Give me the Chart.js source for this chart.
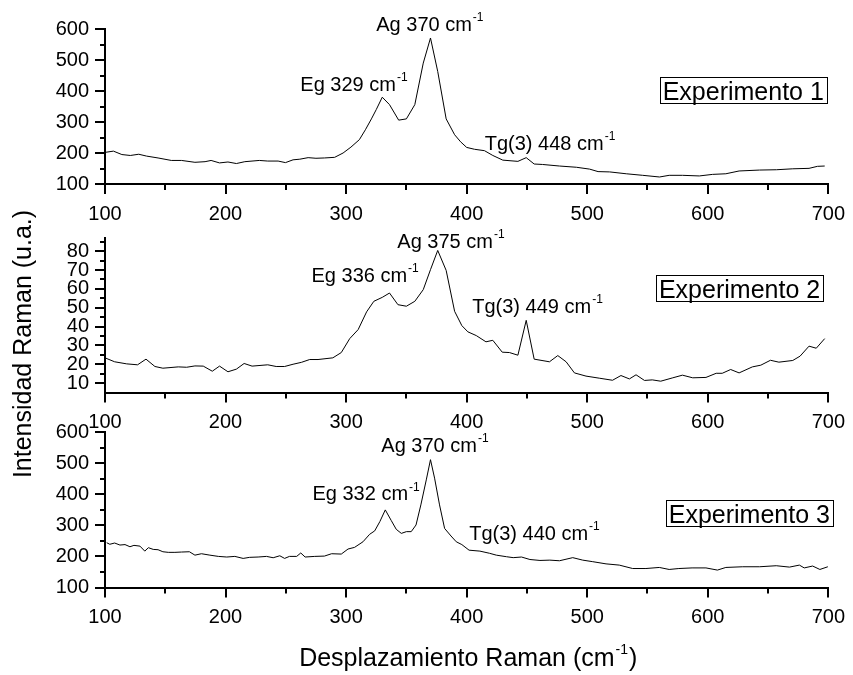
<!DOCTYPE html>
<html><head><meta charset="utf-8">
<script src="https://cdn.jsdelivr.net/npm/chart.js@4"></script>
<style>
html,body{margin:0;padding:0;background:#fff;width:853px;height:675px;overflow:hidden}
canvas{position:absolute;left:0;top:0}
</style></head>
<body>
<canvas id="c1" width="853" height="675"></canvas>
<canvas id="c2" width="853" height="675"></canvas>
<canvas id="c3" width="853" height="675"></canvas>
<script>
// ---- data ----
const ramanShift1 = [100,107,114,121,128,134.5,144,155,163.5,174.6,183,188,195,202,209,216,228,235,243.6,249.7,256,261.6,268.5,275,282,290.5,297.5,304,311,316,321,325,330,336,343.6,350,357,364,370,376,383,390,395,400,406.5,414.8,421.7,430,442.5,449.4,456,463,477,491,502,509,518.6,532.4,546,560,568,579,593,604,615,626,643,657,670.5,684,691,697];
const intensity1 = [202,206,195,192,196,190,184,176,176,170,172,176,168,171,166,172,176,174,174,169,178,180,185,183,184,186,200,219,243,275,310,340,380,356,306,310,356,490,571,463,310,259,236,218,212,207.5,192,177,173,185,164.5,163,158,154,148,140,139,133,128,122.6,128,128,126,131,133,142,145,146,149,150.5,157,158];

const ramanShift2 = [100,108,118,127,134,141.4,148,160.8,167.7,174.6,181.5,189,195,202,209,215.4,222,235,242,249,256,262.9,269.8,276.7,289,296,303,310,317,323,330,336,343,350,357,364,370,376,383,390,396,401,408,416,421.7,429.5,435.5,442.5,449.4,456,468.7,475.6,482.5,489.4,499,510,521,528,535,540.5,547.5,554,561,571,579,587.5,598.5,607,612,619,626,637,644,652,659,670.5,676.6,684,690,697];
const intensity2 = [23.4,21.3,20.2,19.7,22.7,18.8,17.9,18.6,18.4,19.1,19,16.3,19,16,17.4,20.4,19,19.7,18.8,18.8,20,21,22.5,22.5,23.4,26.2,33.6,38.4,47.8,53.4,55.5,57.8,51.6,50.8,53.4,59.6,70.2,80.4,69.8,48.1,40.5,37.2,35.2,31.9,32.7,26.4,26.2,24.8,43.3,22.7,21.3,24.6,21.3,15.4,13.7,12.6,11.5,14,12.2,14.4,11.4,11.7,11,12.8,14.2,12.8,13,15.2,15.2,17.2,15.4,18.6,19.5,22.1,21.1,22,24.3,29.6,28.5,33.6];

const ramanShift3 = [101.4,104,108,112.4,116.6,120.7,124,129,133,136,140,144,148,152.5,158,163.5,170,174.6,180,187,194,201,207.7,214.6,220,227,234,239.5,245,249,253,259,262.4,266,274,282,288,296,301.6,307,314,319.5,323.7,328,332.5,337.5,341.6,345.8,350,354,358,362,366.5,370,373.4,377.5,381.7,387,391.4,396,402,411,419,424.6,433,438.6,445.5,452.5,460.8,469,477,488,496.3,504.6,515.6,526.6,537.7,548.7,559.8,568,576,587,598.5,608,615,629,643,656.8,667.8,676,680,687,693,699.6];
const intensity3 = [244,239,243,236.5,238,231,235.5,233,217,228,222.5,221.5,215,213,213,214,215,204,208.6,204,200,198,200,193.5,197,198,200,195.7,202,193.5,200,200,211,198,200,201,208.6,207.5,223.7,229,247,271,282,312,349.5,315,287,274,279.6,279.6,301,365.6,446,511,451.6,365.6,290,265.6,247,238,220,217,210,204,199,196,198,190,187,188,186,196,188,183,176,172,161,161,164.5,158,161,163,163,156,164.5,166.7,166.7,170,165.6,172,163,169,158,166.7];

// ---- tick labels ----
const xTicks = [100,200,300,400,500,600,700];
const xMinorTicks = [150,250,350,450,550,650];
const yTicks1 = [100,200,300,400,500,600];
const yMinorTicks1 = [150,250,350,450,550];
const yTicks2 = [10,20,30,40,50,60,70,80];
const yMinorTicks2 = [15,25,35,45,55,65,75,85];
const yTicks3 = [100,200,300,400,500,600];
const yMinorTicks3 = [150,250,350,450,550];

// ---- texts ----
const peakLabels1 = ['Ag 370 cm', 'Eg 329 cm', 'Tg(3) 448 cm'];
const peakLabels2 = ['Ag 375 cm', 'Eg 336 cm', 'Tg(3) 449 cm'];
const peakLabels3 = ['Ag 370 cm', 'Eg 332 cm', 'Tg(3) 440 cm'];
const experimentNames = ['Experimento 1', 'Experimento 2', 'Experimento 3'];
const yTitle = 'Intensidad Raman (u.a.)';
const xTitle = 'Desplazamiento Raman (cm';

// ---- layout (anchors in data coordinates: [x, y]) ----
const FONT = "'Liberation Sans', Arial, Helvetica, sans-serif";
const panels = [
  {id:'c1', xs:ramanShift1, ys:intensity1, yMin:100, yMax:600, yTicks:yTicks1, yMinor:yMinorTicks1,
   top:29, bottom:184, labels:peakLabels1, anchors:[[325,594],[262,400],[415,210]],
   box:{text:experimentNames[0], at:[562.6,371]}},
  {id:'c2', xs:ramanShift2, ys:intensity2, yMin:5, yMax:87, yTicks:yTicks2, yMinor:yMinorTicks2,
   top:238, bottom:392.5, labels:peakLabels2, anchors:[[342.5,81.7],[271.3,63.7],[404.6,47.2]],
   box:{text:experimentNames[1], at:[559.5,55]}},
  {id:'c3', xs:ramanShift3, ys:intensity3, yMin:100, yMax:600, yTicks:yTicks3, yMinor:yMinorTicks3,
   top:432, bottom:587.5, labels:peakLabels3, anchors:[[329.2,535.7],[272.1,381],[402.1,252.7]],
   box:{text:experimentNames[2], at:[567.6,307.4]}, titles:true}
];

Chart.defaults.font.family = FONT;
Chart.defaults.color = '#000';

function drawSup(ctx, text, x, y, size) {
  ctx.font = size + 'px ' + FONT;
  ctx.textBaseline = 'alphabetic';
  ctx.textAlign = 'left';
  ctx.fillText(text, x, y);
  const w = ctx.measureText(text).width;
  ctx.font = Math.round(size * 0.58) + 'px ' + FONT;
  ctx.fillText('-1', w + x + 1, y - size * 0.48);
  return w + 1 + ctx.measureText('-1').width;
}

const panelPlugin = {
  id: 'panelDecor',
  afterDraw(chart, args, opts) {
    const p = opts.panel;
    const ctx = chart.ctx;
    const xs = chart.scales.x, ys = chart.scales.y;
    ctx.save();
    ctx.strokeStyle = '#000';
    ctx.fillStyle = '#000';
    ctx.lineWidth = 2;
    // minor ticks
    ctx.beginPath();
    xMinorTicks.forEach(v => {
      const px = Math.round(xs.getPixelForValue(v));
      ctx.moveTo(px, ys.bottom); ctx.lineTo(px, ys.bottom + 6);
    });
    p.yMinor.forEach(v => {
      const py = Math.round(ys.getPixelForValue(v));
      ctx.moveTo(xs.left - 5, py); ctx.lineTo(xs.left, py);
    });
    ctx.stroke();
    // peak labels
    p.labels.forEach((t, i) => {
      const a = p.anchors[i];
      drawSup(ctx, t, xs.getPixelForValue(a[0]), ys.getPixelForValue(a[1]), 20);
    });
    // boxed experiment name
    ctx.font = '25px ' + FONT;
    ctx.textBaseline = 'alphabetic';
    const bx = xs.getPixelForValue(p.box.at[0]);
    const by = ys.getPixelForValue(p.box.at[1]);
    const tw = ctx.measureText(p.box.text).width;
    ctx.fillText(p.box.text, bx, by);
    ctx.lineWidth = 1;
    ctx.strokeRect(Math.round(bx - 3) + 0.5, Math.round(by - 23) + 0.5, Math.round(tw + 6), 26);
    // axis titles
    if (p.titles) {
      ctx.font = '25px ' + FONT;
      const full = ctx.measureText(xTitle).width + ctx.measureText(')').width + 12;
      const sx = 467 - full / 2;
      const w = drawSup(ctx, xTitle, sx, 666, 25);
      ctx.font = '25px ' + FONT;
      ctx.fillText(')', sx + w + 1, 666);
      ctx.save();
      ctx.translate(31, 344);
      ctx.rotate(-Math.PI / 2);
      ctx.textAlign = 'center';
      ctx.font = '25px ' + FONT;
      ctx.fillText(yTitle, 0, 0);
      ctx.restore();
    }
    ctx.restore();
  }
};

panels.forEach(p => {
  new Chart(document.getElementById(p.id), {
    type: 'line',
    data: {
      datasets: [{
        data: p.xs.map((x, i) => ({x: x, y: p.ys[i]})),
        borderColor: '#000', borderWidth: 1, pointRadius: 0, fill: false, tension: 0
      }]
    },
    options: {
      responsive: false, animation: false, events: [],
      layout: {padding: {left: 0, right: 23, top: p.top, bottom: 675 - p.bottom - 40}},
      plugins: {legend: {display: false}, tooltip: {enabled: false}, panelDecor: {panel: p}},
      scales: {
        x: {
          type: 'linear', min: 100, max: 700,
          afterBuildTicks: s => { s.ticks = xTicks.map(v => ({value: v})); },
          afterFit: s => { s.height = 40; },
          grid: {drawOnChartArea: false, drawTicks: true, tickLength: 10, color: '#000', lineWidth: 2},
          border: {display: true, color: '#000', width: 2},
          ticks: {color: '#000', padding: 8, font: {size: 20}, maxRotation: 0, autoSkip: false}
        },
        y: {
          type: 'linear', min: p.yMin, max: p.yMax,
          afterBuildTicks: s => { s.ticks = p.yTicks.map(v => ({value: v})); },
          afterFit: s => { s.width = 105; },
          grid: {drawOnChartArea: false, drawTicks: true, tickLength: 10, color: '#000', lineWidth: 2},
          border: {display: true, color: '#000', width: 2},
          ticks: {color: '#000', padding: 6, font: {size: 20}, autoSkip: false}
        }
      }
    },
    plugins: [panelPlugin]
  });
});
</script>
</body></html>
